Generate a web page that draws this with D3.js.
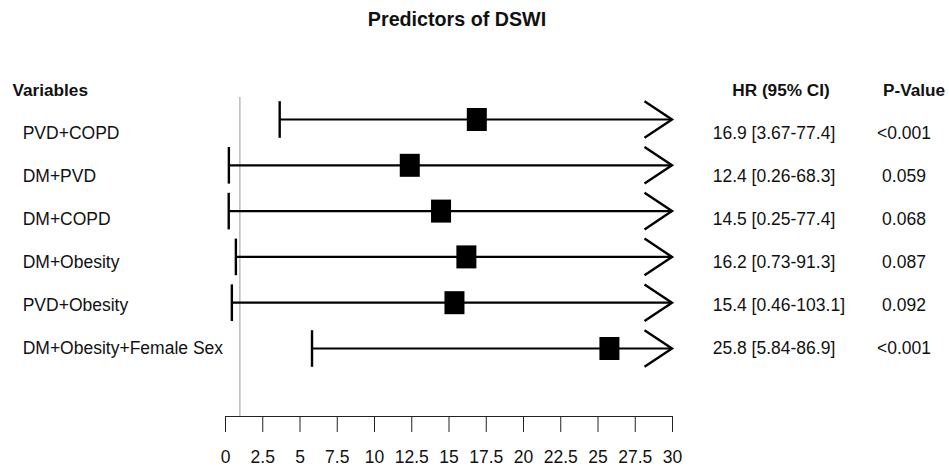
<!DOCTYPE html>
<html lang="en">
<head>
  <meta charset="UTF-8">
  <title>Predictors of DSWI</title>
  <script src="https://d3js.org/d3.v7.min.js"></script>
  <style>
    body { margin: 0; background: #fff; }
    text { font-family: "Liberation Sans", Arial, sans-serif; fill: #111; }
  </style>
</head>
<body>
  <script>
    // data
    const variables = ["PVD+COPD", "DM+PVD", "DM+COPD", "DM+Obesity", "PVD+Obesity", "DM+Obesity+Female Sex"];
    const hr = [16.9, 12.4, 14.5, 16.2, 15.4, 25.8];
    const lower = [3.67, 0.26, 0.25, 0.73, 0.46, 5.84];
    const upper = [77.4, 68.3, 77.4, 91.3, 103.1, 86.9];
    const hrText = ["16.9 [3.67-77.4]", "12.4 [0.26-68.3]", "14.5 [0.25-77.4]", "16.2 [0.73-91.3]", "15.4 [0.46-103.1]", "25.8 [5.84-86.9]"];
    const pValues = ["<0.001", "0.059", "0.068", "0.087", "0.092", "<0.001"];
    const xTicks = [0, 2.5, 5, 7.5, 10, 12.5, 15, 17.5, 20, 22.5, 25, 27.5, 30];
    const refValue = 1;

    const width = 949, height = 476;
    const fontSize = 17.5;

    let svg = d3.select("body")
      .append("svg")
      .attr("width", width)
      .attr("height", height);

    const x = d3.scaleLinear().domain([0, 30]).range([225, 672]);
    // marks and text sit on slightly different row grids in the original
    const yMark = d3.scaleLinear().domain([0, 5]).range([119.5, 348.5]);
    const yText = d3.scaleLinear().domain([0, 5]).range([139, 354]);
    const axisY = 416;

    // title
    svg.append("text")
      .attr("x", 457)
      .attr("y", 26)
      .attr("text-anchor", "middle")
      .style("font-size", "19.7px")
      .style("font-weight", "bold")
      .text("Predictors of DSWI");

    // column headers
    const headers = [
      { t: "Variables", x: 12.5, anchor: "start" },
      { t: "HR (95% CI)", x: 781, anchor: "middle" },
      { t: "P-Value", x: 883, anchor: "start" }
    ];
    svg.selectAll(".header")
      .data(headers)
      .enter()
      .append("text")
      .attr("class", "header")
      .attr("x", d => d.x)
      .attr("y", 96)
      .attr("text-anchor", d => d.anchor)
      .style("font-size", "17.2px")
      .style("font-weight", "bold")
      .text(d => d.t);

    // reference line at HR = 1
    svg.append("line")
      .attr("x1", x(refValue))
      .attr("x2", x(refValue))
      .attr("y1", 97)
      .attr("y2", axisY)
      .attr("stroke", "#999")
      .attr("stroke-width", 1);

    // axis
    const axis = d3.axisBottom(x)
      .tickValues(xTicks)
      .tickSize(16)
      .tickSizeOuter(0)
      .tickFormat(d => String(d));

    const gAxis = svg.append("g")
      .attr("transform", `translate(0,${axisY})`)
      .call(axis);
    gAxis.select(".domain").attr("stroke", "#222").attr("stroke-width", 1);
    gAxis.selectAll(".tick line").attr("stroke", "#222").attr("stroke-width", 1);
    gAxis.selectAll(".tick text")
      .attr("y", 47)
      .attr("dy", 0)
      .attr("fill", "#111")
      .style("font-size", fontSize + "px")
      .style("font-family", "\"Liberation Sans\", Arial, sans-serif");

    const rows = variables.map((v, i) => ({
      i, v, hr: hr[i], lo: lower[i], hi: upper[i], hrText: hrText[i], p: pValues[i]
    }));

    const capHalf = 18.3;
    const maxX = x.domain()[1];

    // CI lines (clipped at axis max)
    svg.selectAll(".ci")
      .data(rows)
      .enter()
      .append("line")
      .attr("x1", d => x(d.lo))
      .attr("x2", d => x(Math.min(d.hi, maxX)))
      .attr("y1", d => yMark(d.i))
      .attr("y2", d => yMark(d.i))
      .attr("stroke", "#000")
      .attr("stroke-width", 2.2);

    // lower caps
    svg.selectAll(".cap")
      .data(rows)
      .enter()
      .append("line")
      .attr("x1", d => x(d.lo))
      .attr("x2", d => x(d.lo))
      .attr("y1", d => yMark(d.i) - capHalf)
      .attr("y2", d => yMark(d.i) + capHalf)
      .attr("stroke", "#000")
      .attr("stroke-width", 2.4);

    // arrows where the upper limit runs past the axis
    svg.selectAll(".arrow")
      .data(rows.filter(d => d.hi > maxX))
      .enter()
      .append("path")
      .attr("d", d => {
        const tx = x(maxX), ty = yMark(d.i);
        return `M${tx - 27.5},${ty - capHalf}L${tx},${ty}L${tx - 27.5},${ty + capHalf}`;
      })
      .attr("fill", "none")
      .attr("stroke", "#000")
      .attr("stroke-width", 2.4);

    // point estimate boxes
    const boxW = 20, boxH = 23;
    svg.selectAll(".box")
      .data(rows)
      .enter()
      .append("rect")
      .attr("x", d => x(d.hr) - boxW / 2)
      .attr("y", d => yMark(d.i) - boxH / 2)
      .attr("width", boxW)
      .attr("height", boxH)
      .attr("fill", "#000");

    // variable labels
    svg.selectAll(".label")
      .data(rows)
      .enter()
      .append("text")
      .attr("x", 22.7)
      .attr("y", d => yText(d.i))
      .style("font-size", fontSize + "px")
      .text(d => d.v);

    // HR column
    svg.selectAll(".hrtext")
      .data(rows)
      .enter()
      .append("text")
      .attr("x", 712.7)
      .attr("y", d => yText(d.i))
      .style("font-size", fontSize + "px")
      .text(d => d.hrText);

    // p-values
    svg.selectAll(".pval")
      .data(rows)
      .enter()
      .append("text")
      .attr("x", 904)
      .attr("y", d => yText(d.i))
      .attr("text-anchor", "middle")
      .style("font-size", fontSize + "px")
      .text(d => d.p);
  </script>
</body>
</html>
